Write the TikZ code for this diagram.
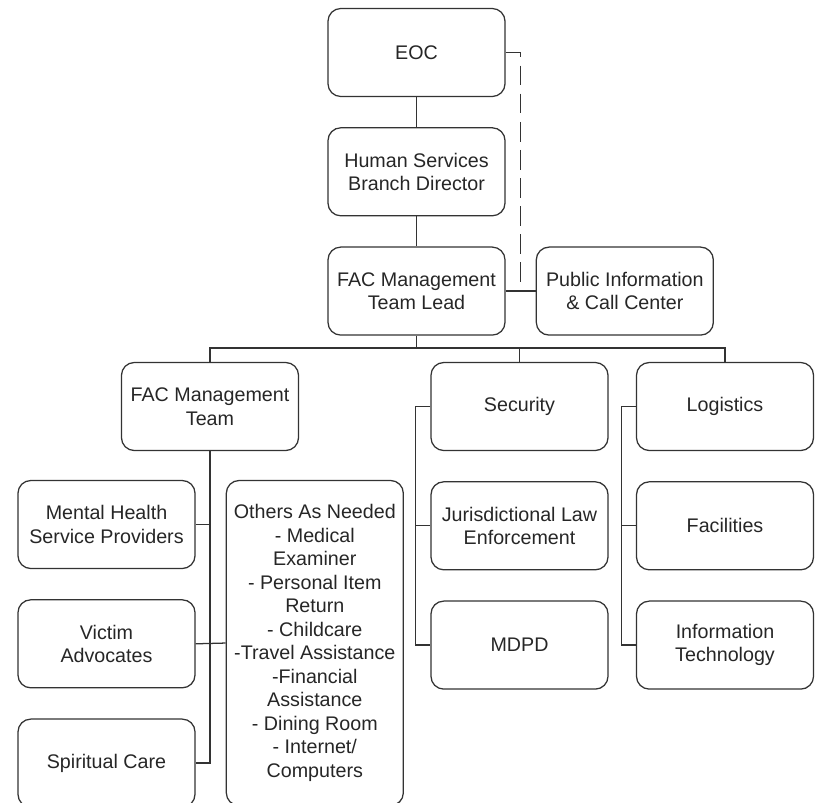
\documentclass[tikz,border=0pt]{standalone}
\usepackage{fontspec}
\setmainfont{Liberation Sans}
\usepackage{tikz}
\usetikzlibrary{positioning, calc}

\newcommand{\boxfont}{\fontsize{14}{16.7}\selectfont}

\begin{document}
\begin{tikzpicture}[x=0.025cm, y=-0.025cm, node distance=0.75cm,
  box/.style={draw=black!80,line width=0.9pt,rounded corners=0.32cm,minimum width=4.425cm,minimum height=2.2cm,
    align=center,inner sep=2pt,text=black!85,font=\boxfont},
  link/.style={draw=black!80,line width=0.9pt}]
  \useasboundingbox (0,0) rectangle (819,802);
  % top chain
  \node[box] (eoc) at (416.5,52.5) {EOC};
  \node[box, below=of eoc] (hsbd) {Human Services\\Branch Director};
  \node[box, below=of hsbd] (lead) {FAC Management\\Team Lead};
  \node[box, right=of lead] (pub) {Public Information\\\& Call Center};
  % second row
  \node[box] (team) at (210,406.5) {FAC Management\\Team};
  \node[box] (sec) at (519.5,406.5) {Security};
  \node[box] (log) at (725,406.5) {Logistics};
  % team members
  \node[box] (mh) at (106.5,524.5) {Mental Health\\Service Providers};
  \node[box, below=of mh] (victim) {Victim\\Advocates};
  \node[box, below=of victim] (spirit) {Spiritual Care};
  \node[box, anchor=north west, minimum height=8.125cm] (others) at ([xshift=0.75cm]mh.north east)
    {Others As Needed\\- Medical\\Examiner\\- Personal Item\\Return\\- Childcare\\-Travel Assistance\\-Financial\\Assistance\\- Dining Room\\- Internet/\\Computers};
  % security and logistics
  \node[box, below=of sec] (jur) {Jurisdictional Law\\Enforcement};
  \node[box, below=of jur] (mdpd) {MDPD};
  \node[box, below=of log] (fac) {Facilities};
  \node[box, below=of fac] (it) {Information\\Technology};

  \draw[link] (eoc) -- (hsbd);
  \draw[link] (hsbd) -- (lead);
  \draw[link] (lead.east) -- (pub.west);
  \draw[link, dash pattern=on 14pt off 6pt] (eoc.east) -| ($(lead.east)!0.5!(pub.west)$);
  % bus
  \coordinate (bus) at (416.5,348);
  \draw[link] (lead.south) -- (bus);
  \draw[link] (team.north) |- (bus) -| (log.north);
  \draw[link] (sec.north) -- (sec.north |- bus);
  % team column
  \draw[link] (team.south) |- (spirit.east);
  \draw[link] (mh.east) -- (mh.east -| team.south);
  \draw[link] (victim.east) -- (others.west);
  % security column
  \draw[link] (sec.west) -- ++(-15,0) |- (mdpd.west);
  \draw[link] (jur.west) -- ++(-15,0);
  % logistics column
  \draw[link] (log.west) -- ++(-14,0) |- (it.west);
  \draw[link] (fac.west) -- ++(-14,0);
\end{tikzpicture}
\end{document}
